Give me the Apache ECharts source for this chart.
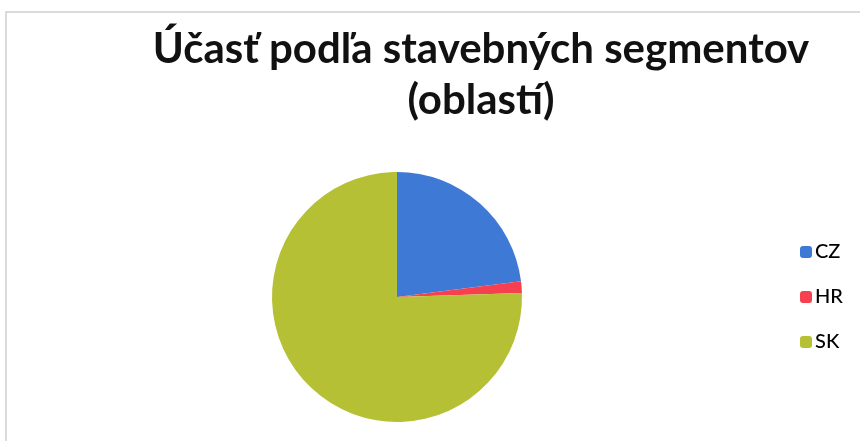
<!DOCTYPE html>
<html>
<head>
<meta charset="utf-8">
<script src="https://cdn.jsdelivr.net/npm/echarts@6/dist/echarts.min.js"></script>
<style>html,body{margin:0;padding:0;background:#fff}#c{width:860px;height:441px}</style>
</head>
<body>
<div id="c"></div>
<script>
const categories = ['CZ', 'HR', 'SK'];
const values = [23.0, 1.5, 75.5];
const colors = ['#3f79d6', '#f7404f', '#b6c034'];

const chart = echarts.init(document.getElementById('c'));
chart.setOption({
  backgroundColor: '#ffffff',
  animation: false,
  title: {
    text: 'Účasť podľa stavebných segmentov\n(oblastí)',
    left: 476,
    textAlign: 'center',
    top: 19,
    textStyle: {
      fontFamily: 'Lato',
      fontWeight: 'bold',
      fontSize: 42,
      lineHeight: 51,
      color: '#111'
    }
  },
  legend: {
    orient: 'vertical',
    left: 795,
    top: 237,
    itemWidth: 12,
    itemHeight: 12,
    itemGap: 25,
    icon: 'roundRect',
    textStyle: { fontFamily: 'Lato', fontSize: 20, fontWeight: 500, color: '#000', padding: [0, 0, 0, -2] },
    data: categories
  },
  graphic: [{
    type: 'rect',
    shape: { x: 6, y: 12, width: 860, height: 440 },
    style: { fill: 'none', stroke: '#cfcfcf', lineWidth: 1.5 },
    silent: true
  }],
  series: [{
    type: 'pie',
    center: [397, 297],
    radius: 125,
    startAngle: 90,
    clockwise: true,
    label: { show: false },
    labelLine: { show: false },
    data: categories.map((c, i) => ({ name: c, value: values[i], itemStyle: { color: colors[i] } }))
  }]
});
</script>
</body>
</html>
